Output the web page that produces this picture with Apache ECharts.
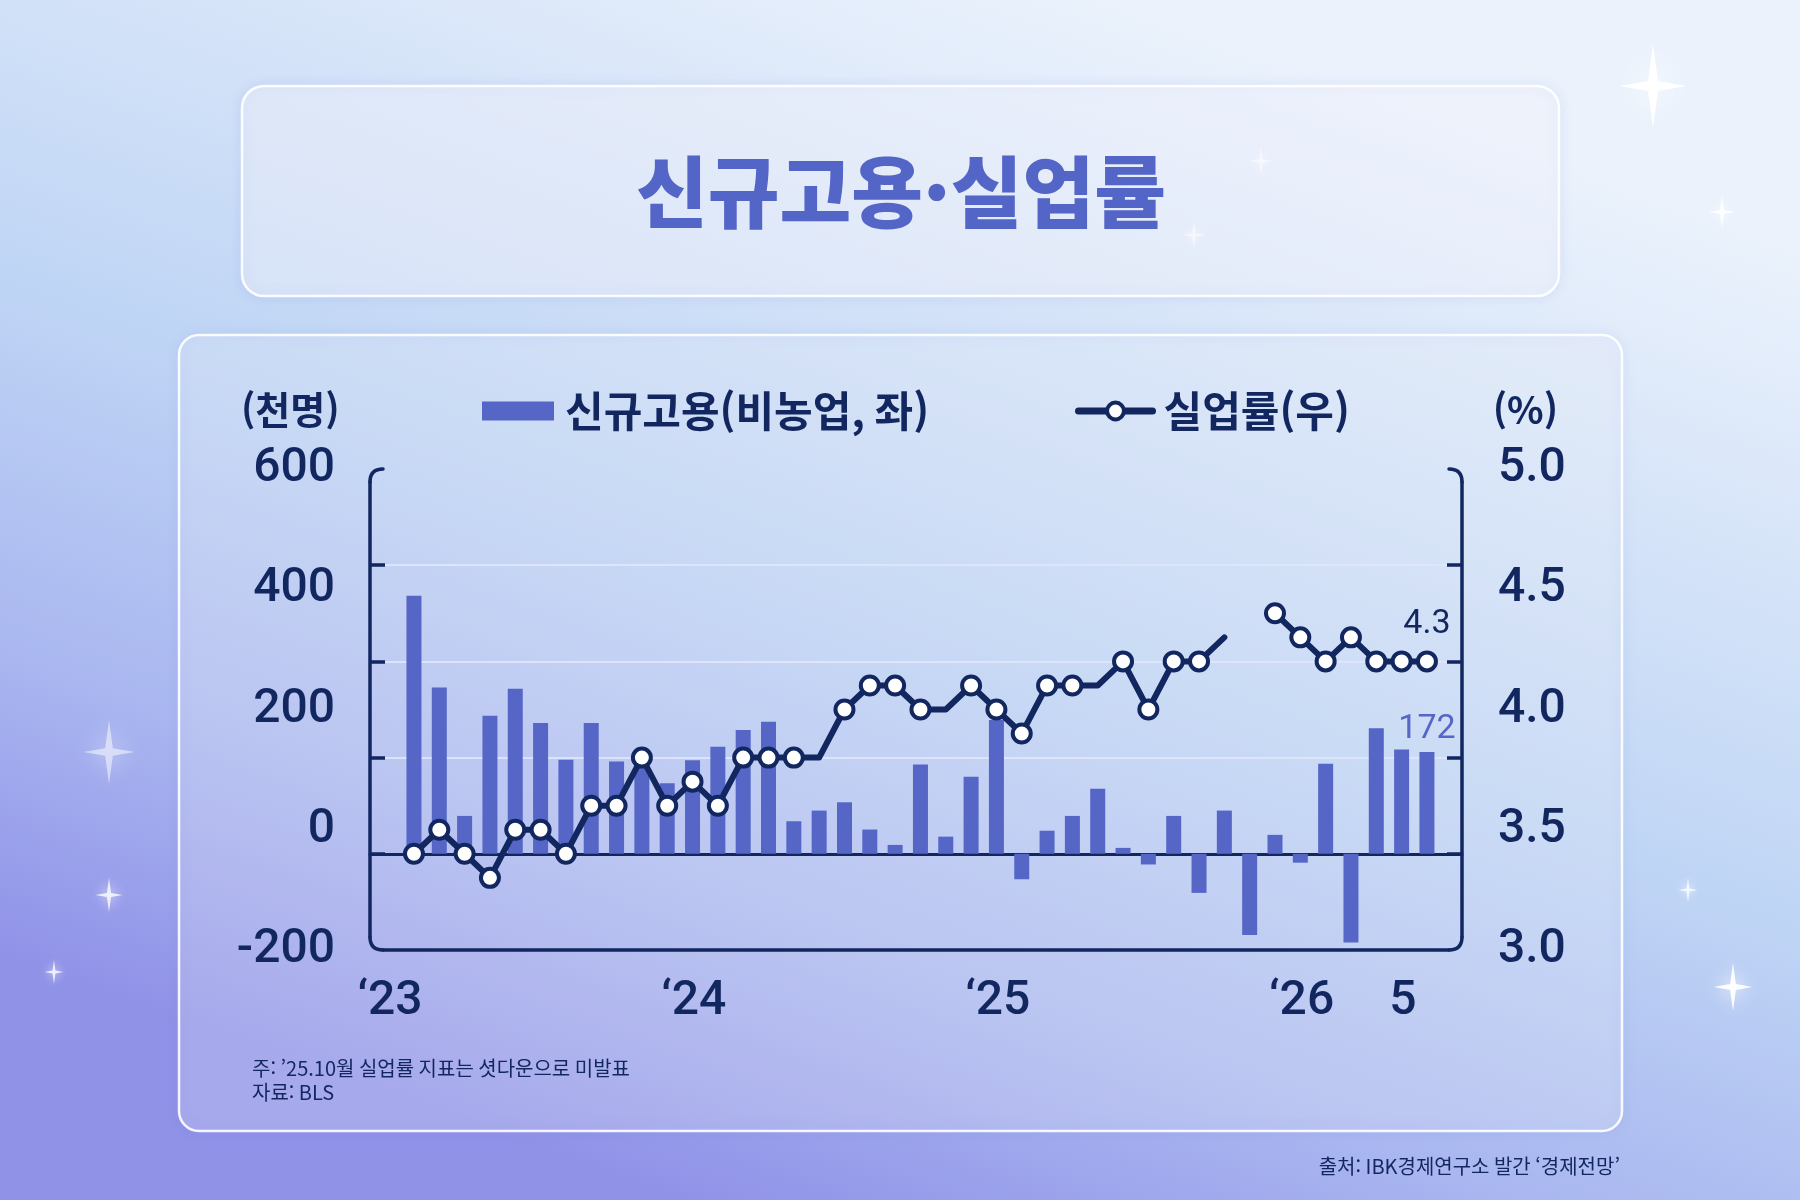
<!DOCTYPE html>
<html lang="ko">
<head>
    <meta charset="UTF-8">
    <title>신규고용·실업률</title>
    <script src="https://cdn.jsdelivr.net/npm/echarts@6.0.0/dist/echarts.min.js"></script>
    <style>
        html, body { margin: 0; padding: 0; }
    </style>
</head>
<body>
    <div id="main" style="width: 1800px;height: 1200px"></div>
    <script type="text/javascript">
        // 월별 카테고리 ('23.1 ~ '26.5)
        var months = [
            '2023-01','2023-02','2023-03','2023-04','2023-05','2023-06','2023-07','2023-08','2023-09','2023-10','2023-11','2023-12',
            '2024-01','2024-02','2024-03','2024-04','2024-05','2024-06','2024-07','2024-08','2024-09','2024-10','2024-11','2024-12',
            '2025-01','2025-02','2025-03','2025-04','2025-05','2025-06','2025-07','2025-08','2025-09','2025-10','2025-11','2025-12',
            '2026-01','2026-02','2026-03','2026-04','2026-05'
        ];
        // 신규고용(비농업, 천명)
        var jobs = [436, 281, 64, 233, 279, 221, 159, 221, 156, 170, 119, 158,
                    181, 209, 223, 55, 73, 87, 41, 15, 151, 29, 130, 226,
                    -43, 39, 64, 110, 10, -18, 64, -66, 73, -137, 32, -15,
                    152, -150, 212, 176, 172];
        // 실업률(%), '25.10월 미발표
        var rate = [3.5, 3.6, 3.5, 3.4, 3.6, 3.6, 3.5, 3.7, 3.7, 3.9, 3.7, 3.8,
                    3.7, 3.9, 3.9, 3.9, 3.9, 4.1, 4.2, 4.2, 4.1, 4.1, 4.2, 4.1,
                    4.0, 4.2, 4.2, 4.2, 4.3, 4.1, 4.3, 4.3, 4.4, null, 4.5, 4.4,
                    4.3, 4.4, 4.3, 4.3, 4.3];
        // 원본에서 마커가 없는 꺾임점
        var noMarker = ['2024-05', '2024-10', '2025-04', '2025-09'];

        var xTickMonths = ['2023-01', '2024-01', '2025-01', '2026-01', '2026-05'];
        var xTickLabels = ['\u201823', '\u201824', '\u201825', '\u201826', '5'];
        var leftTicks = [-200, 600, 200];   // min, max, interval
        var rightTicks = [3.0, 5.0, 0.5];

        var navy = '#12265f';
        var barColor = '#5566c6';
        var numFont = "'Liberation Sans Narrow', Roboto, 'Liberation Sans', sans-serif";
        var krFont = "'Noto Sans CJK KR', 'Noto Sans', sans-serif";

        // 축 테두리 영역
        var plot = { left: 370, top: 469, width: 1092, height: 481 };
        var L = plot.left, T = plot.top, R = plot.left + plot.width, B = plot.top + plot.height, rc = 13;

        var last = months.length - 1;
        var barData = jobs.map(function (v, i) {
            if (i === last) {
                return {
                    value: v,
                    label: {
                        show: true, position: 'top', distance: 5,
                        color: barColor, fontFamily: numFont, fontSize: 34
                    }
                };
            }
            return v;
        });
        var lineData = rate.map(function (v, i) {
            if (i === last) {
                return {
                    value: v,
                    label: {
                        show: true, position: 'top', distance: 9,
                        color: navy, fontFamily: numFont, fontSize: 34,
                        formatter: function (p) { return p.value.toFixed(1); }
                    }
                };
            }
            if (noMarker.indexOf(months[i]) >= 0) {
                return { value: v, symbol: 'none' };
            }
            return v;
        });

        function star(cx, cy, r, op) {
            var k = r * 0.12;
            return {
                type: 'polygon', z: -5, silent: true,
                shape: { points: [[cx, cy - r], [cx + k, cy - k], [cx + r * 0.8, cy], [cx + k, cy + k],
                                  [cx, cy + r], [cx - k, cy + k], [cx - r * 0.8, cy], [cx - k, cy - k]] },
                style: { fill: 'rgba(255,255,255,' + op + ')', shadowBlur: r * 0.7, shadowColor: 'rgba(255,255,255,0.9)' }
            };
        }

        var frameStyle = { stroke: navy, lineWidth: 3.5, lineCap: 'round', fill: null };
        function seg(x1, y1, x2, y2) {
            return { type: 'line', z: 5, silent: true, shape: { x1: x1, y1: y1, x2: x2, y2: y2 }, style: frameStyle };
        }
        function corner(x1, y1, cx, cy, x2, y2) {
            return { type: 'bezierCurve', z: 5, silent: true,
                     shape: { x1: x1, y1: y1, cpx1: cx, cpy1: cy, x2: x2, y2: y2 }, style: frameStyle };
        }

        var myChart = echarts.init(document.getElementById('main'));

        option = {
            backgroundColor: new echarts.graphic.LinearGradient(0.62, 0, 0.38, 1, [
                { offset: 0, color: '#ebf2fc' },
                { offset: 0.5, color: '#bfd5f5' },
                { offset: 0.78, color: '#a9b6f0' },
                { offset: 1, color: '#9092e8' }
            ]),
            textStyle: { fontFamily: krFont },
            animation: false,
            graphic: [
                {
                    type: 'rect', z: -4, silent: true,
                    shape: { x: 242, y: 86, width: 1317, height: 210, r: 22 },
                    style: { fill: 'rgba(255,255,255,0.4)', stroke: 'rgba(255,255,255,0.9)', lineWidth: 2.5,
                             shadowBlur: 12, shadowColor: 'rgba(110,130,220,0.2)' }
                },
                {
                    type: 'rect', z: -4, silent: true,
                    shape: { x: 179, y: 335, width: 1443, height: 796, r: 20 },
                    style: { fill: 'rgba(255,255,255,0.22)', stroke: 'rgba(255,255,255,0.9)', lineWidth: 2.5,
                             shadowBlur: 12, shadowColor: 'rgba(110,130,220,0.2)' }
                },
                star(1653, 86, 42, 0.95), star(1261, 161, 14, 0.8), star(1194, 235, 14, 0.8),
                star(1722, 212, 17, 0.85), star(109, 752, 32, 0.5), star(109, 895, 17, 0.8),
                star(54, 972, 12, 0.8), star(1688, 890, 12, 0.8), star(1733, 987, 24, 0.95),
                // 축 테두리 (둥근 모서리)
                seg(L, T + rc, L, B - rc), seg(L + rc, B, R - rc, B), seg(R, T + rc, R, B - rc),
                corner(L + rc, T, L, T, L, T + rc), corner(L, B - rc, L, B, L + rc, B),
                corner(R - rc, B, R, B, R, B - rc), corner(R, T + rc, R, T, R - rc, T),
                {
                    type: 'text', z: 10, x: 901, y: 192,
                    style: { text: '신규고용·실업률', fill: '#5465c8', font: '900 78px ' + krFont,
                             textAlign: 'center', textVerticalAlign: 'middle' }
                },
                {
                    type: 'text', z: 10, x: 241, y: 410,
                    style: { text: '(천명)', fill: navy, font: 'bold 38px ' + krFont, textVerticalAlign: 'middle' }
                },
                {
                    type: 'text', z: 10, x: 1558, y: 410,
                    style: { text: '(%)', fill: navy, font: 'bold 38px ' + krFont, textAlign: 'right', textVerticalAlign: 'middle' }
                },
                {
                    type: 'text', z: 10, x: 252, y: 1068,
                    style: { text: '주: \u201925.10월 실업률 지표는 셧다운으로 미발표', fill: navy, font: '20px ' + krFont, textVerticalAlign: 'middle' }
                },
                {
                    type: 'text', z: 10, x: 252, y: 1092,
                    style: { text: '자료: BLS', fill: navy, font: '20px ' + krFont, textVerticalAlign: 'middle' }
                },
                {
                    type: 'text', z: 10, x: 1620, y: 1166,
                    style: { text: '출처: IBK경제연구소 발간 \u2018경제전망\u2019', fill: navy, font: '20px ' + krFont, textAlign: 'right', textVerticalAlign: 'middle' }
                }
            ],
            legend: [
                {
                    data: [{ name: '신규고용(비농업, 좌)', icon: 'rect' }],
                    left: 482, top: 390, padding: 0,
                    itemWidth: 72, itemHeight: 19,
                    textStyle: { color: navy, fontSize: 42, fontWeight: 'bold', fontFamily: krFont, padding: [0, 0, 0, 6] }
                },
                {
                    data: ['실업률(우)'],
                    left: 1075, top: 390, padding: 0,
                    itemWidth: 74, itemHeight: 21,
                    lineStyle: { width: 7, cap: 'round' },
                    itemStyle: { borderWidth: 4 },
                    textStyle: { color: navy, fontSize: 42, fontWeight: 'bold', fontFamily: krFont, padding: [0, 0, 0, 6] }
                }
            ],
            grid: [
                { left: plot.left, top: plot.top, width: plot.width, height: plot.height },
                { left: 401.3, top: plot.top, width: 1038.3, height: plot.height }
            ],
            xAxis: [
                {   // 0선
                    gridIndex: 0, type: 'value', min: 0, max: 1, position: 'bottom',
                    axisLine: { show: true, onZero: true, lineStyle: { color: navy, width: 3 } },
                    axisTick: { show: false }, axisLabel: { show: false }, splitLine: { show: false }
                },
                {   // 월
                    gridIndex: 1, type: 'category', data: months, position: 'bottom',
                    axisLine: { show: false }, axisTick: { show: false }, splitLine: { show: false },
                    axisLabel: {
                        interval: function (idx, name) { return xTickMonths.indexOf(name) >= 0; },
                        formatter: function (name) { return xTickLabels[xTickMonths.indexOf(name)]; },
                        color: navy, fontFamily: numFont, fontSize: 48, fontWeight: 500,
                        margin: 28, padding: [0, 48, 0, 0]
                    }
                }
            ],
            yAxis: [
                {   // 좌측 눈금
                    gridIndex: 0, type: 'value', position: 'left', min: -162.5, max: 650, interval: 162.5,
                    axisLine: { show: false },
                    axisTick: { show: true, inside: true, length: 15, customValues: [0, 162.5, 325, 487.5],
                                lineStyle: { color: navy, width: 3.5 } },
                    axisLabel: { show: false },
                    splitLine: { show: true, lineStyle: { color: 'rgba(224,230,252,0.85)', width: 2 } }
                },
                {   // 우측 눈금
                    gridIndex: 0, type: 'value', position: 'right', min: 3.1, max: 5.1, interval: 0.4,
                    axisLine: { show: false },
                    axisTick: { show: true, inside: true, length: 15, customValues: [3.5, 3.9, 4.3, 4.7],
                                lineStyle: { color: navy, width: 3.5 } },
                    axisLabel: { show: false }, splitLine: { show: false }
                },
                {   // 좌측 라벨
                    gridIndex: 0, type: 'value', position: 'left',
                    min: leftTicks[0], max: leftTicks[1], interval: leftTicks[2],
                    axisLine: { show: false }, axisTick: { show: false }, splitLine: { show: false },
                    axisLabel: { color: navy, fontFamily: numFont, fontSize: 48, fontWeight: 500, margin: 35 }
                },
                {   // 우측 라벨
                    gridIndex: 0, type: 'value', position: 'right',
                    min: rightTicks[0], max: rightTicks[1], interval: rightTicks[2],
                    axisLine: { show: false }, axisTick: { show: false }, splitLine: { show: false },
                    axisLabel: {
                        color: navy, fontFamily: numFont, fontSize: 48, fontWeight: 500, margin: 36,
                        formatter: function (v) { return v.toFixed(1); }
                    }
                },
                { gridIndex: 1, type: 'value', show: false, min: -162.5, max: 650 },
                { gridIndex: 1, type: 'value', show: false, min: 3.1, max: 5.1 }
            ],
            series: [
                {
                    name: '신규고용(비농업, 좌)', type: 'bar', xAxisIndex: 1, yAxisIndex: 4,
                    barWidth: 15, itemStyle: { color: barColor },
                    data: barData
                },
                {
                    name: '실업률(우)', type: 'line', xAxisIndex: 1, yAxisIndex: 5,
                    symbol: 'circle', symbolSize: 18, showAllSymbol: true, connectNulls: false,
                    lineStyle: { color: navy, width: 6, cap: 'round', join: 'round' },
                    itemStyle: { color: '#ffffff', borderColor: navy, borderWidth: 4 },
                    z: 6,
                    data: lineData
                }
            ]
        };

        myChart.setOption(option);
    </script>
</body>
</html>
